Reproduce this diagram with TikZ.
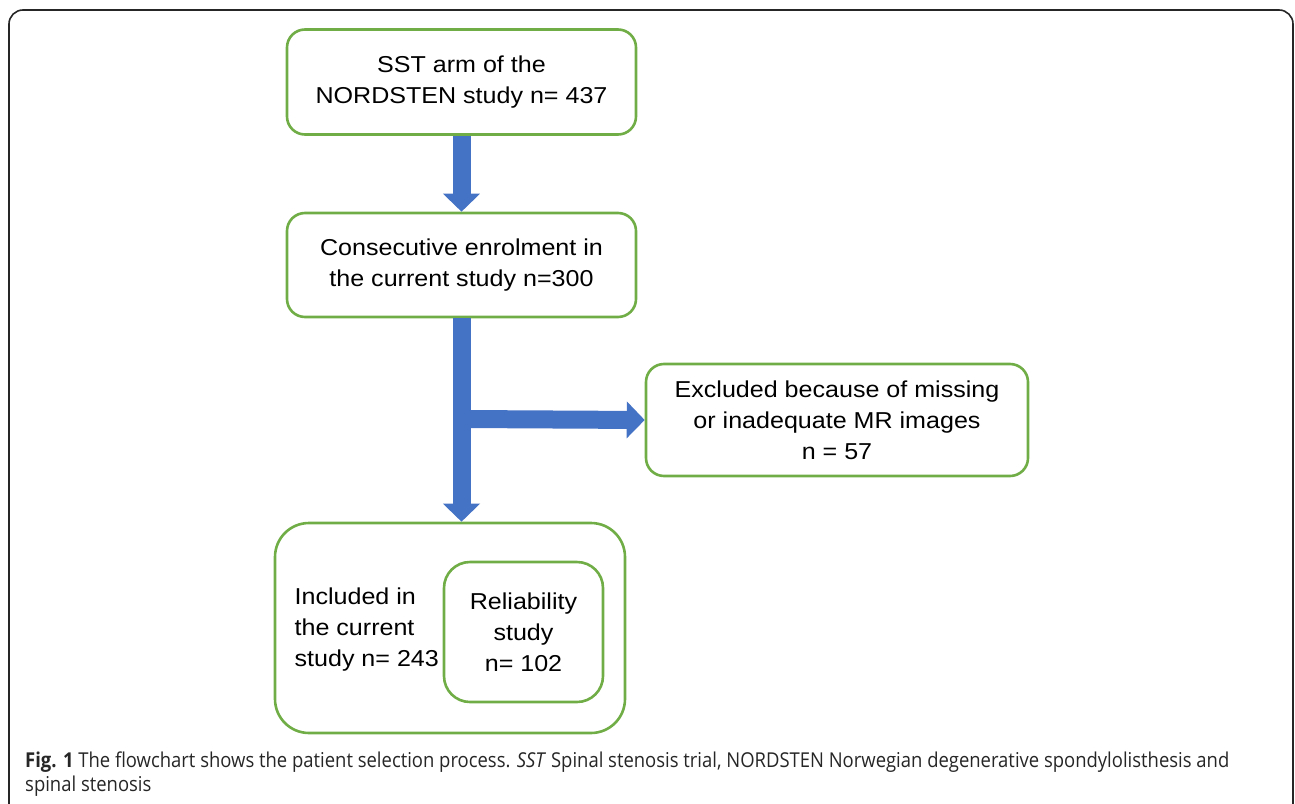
\documentclass[tikz,border=0pt]{standalone}
\usepackage{fontspec}
\setmainfont{Liberation Sans}[FakeStretch=1.09]
\newfontfamily\capfont{Open Sans}[FakeStretch=0.9]
\usetikzlibrary{arrows.meta}
\definecolor{boxgreen}{RGB}{112,173,71}
\definecolor{arrowblue}{RGB}{68,114,196}
\tikzset{
	stagebox/.style={
		draw=boxgreen,
		line width=2.6pt,
		rounded corners=18pt,
		align=center,
		font=\fontsize{23}{31}\selectfont
	},
	blockarrow/.style={
		draw=arrowblue,
		line width=18pt,
		-{Triangle[width=36pt,length=18pt]}
	}
}
\begin{document}
\begin{tikzpicture}[x=1pt, y=-1pt]
\useasboundingbox (0,0) rectangle (1295,803);
\draw[line width=1.6pt, black!85, rounded corners=14pt] (9,810) -- (9,10) -- (1293,10) -- (1293,810);

\node[stagebox, minimum width=349pt, minimum height=105pt] (sst) at (461.5, 82) {SST arm of the\\NORDSTEN study n= 437};
\node[stagebox, minimum width=349pt, minimum height=104pt] (enrol) at (461.5, 265) {Consecutive enrolment in\\the current study n=300};
\node[stagebox, minimum width=382pt, minimum height=112pt] (excl) at (837, 420) {Excluded because of missing\\or inadequate MR images\\n = 57};
\node[stagebox, rounded corners=34pt, minimum width=350pt, minimum height=210pt] (incl) at (450, 628) {};
\node[stagebox, draw=none, align=left, anchor=west] (incltext) at (290, 630) {Included in\\the current\\study n= 243};
\node[stagebox, rounded corners=26pt, minimum width=159pt, minimum height=140pt] (reliab) at (523.5, 632) {Reliability\\study\\n= 102};

\draw[blockarrow] (sst.south) -- (enrol.north);
\draw[blockarrow] (enrol.south) -- (enrol.south |- incl.north);
\coordinate (split) at (463, 419);
\draw[blockarrow] (split) -- (excl.west);

\node[anchor=north west, align=left, inner sep=0pt, text=black!85, font=\capfont\fontsize{20.5}{24}\selectfont] (caption) at (25, 752)
	{\textbf{Fig. 1} The flowchart shows the patient selection process. \textit{SST} Spinal stenosis trial, NORDSTEN Norwegian degenerative spondylolisthesis and\\spinal stenosis};
\end{tikzpicture}
\end{document}
